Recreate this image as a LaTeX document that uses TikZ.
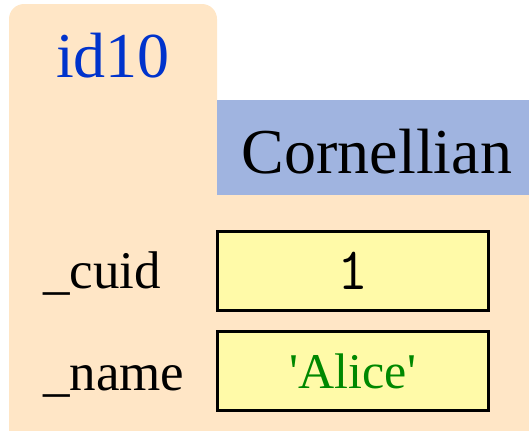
\documentclass[tikz,border=0pt]{standalone}
\usepackage{fontspec}
\setmainfont{Liberation Serif}
\usetikzlibrary{positioning}
\definecolor{folderbg}{HTML}{FFE6C6}
\definecolor{classbg}{HTML}{A0B4E0}
\definecolor{fieldbg}{HTML}{FFFAA8}
\definecolor{idblue}{HTML}{0033CC}
\definecolor{strgreen}{HTML}{008800}

\begin{document}
\begin{tikzpicture}[x=1pt, y=1pt,
    fieldbox/.style={draw=black, line width=3.3pt, fill=fieldbg, inner sep=0pt,
        minimum width=271pt, minimum height=79pt},
    fieldname/.style={anchor=base west, inner sep=0pt, font=\fontsize{53}{56}\selectfont}]
    \useasboundingbox (0, 0) rectangle (529, -431);

    % Folder
    \fill[folderbg, rounded corners=15pt] (9, -4) rectangle (217, -130);
    \fill[folderbg] (9, -100) rectangle (529, -431);
    \node[anchor=base, inner sep=0pt, text=idblue, font=\fontsize{64}{68}\selectfont] (id) at (113, -77) {id10};

    % Class tab
    \fill[classbg] (217, -100) rectangle (529, -195);
    \node[anchor=base, inner sep=0pt, font=\fontsize{64}{68}\selectfont] (cls) at (377, -173) {Cornellian};

    % Fields
    \node[fieldname] (cuid) at (43, -288) {\_cuid};
    \node[fieldbox, font=\ttfamily\fontsize{60}{64}\selectfont] (cuidval) at (353, -271) {1};
    \node[fieldname] (name) at (43, -390) {\_name};
    \node[fieldbox, text=strgreen, font=\fontsize{50}{54}\selectfont] (nameval) at (353, -371) {\textquotesingle Alice\textquotesingle};
\end{tikzpicture}
\end{document}
